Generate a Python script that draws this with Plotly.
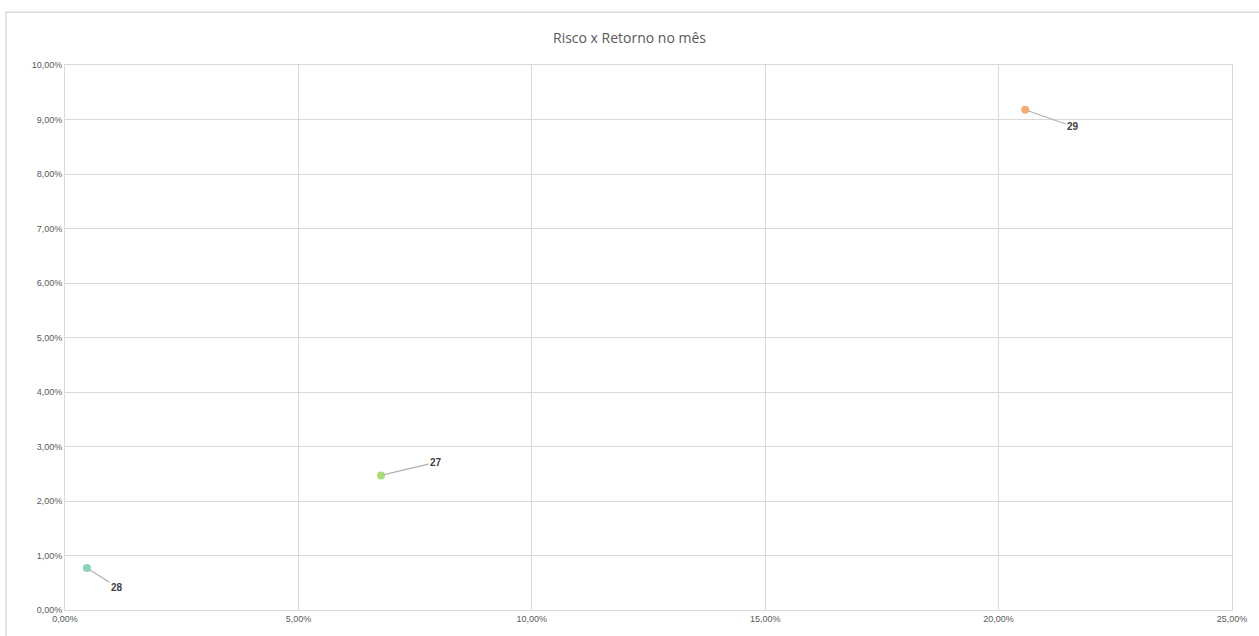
import plotly.graph_objects as go

labels = ["27", "28", "29"]
risco = [0.0677, 0.0047, 0.2057]
retorno = [0.0247, 0.0077, 0.0918]
colors = ["#acdb7a", "#86d6b6", "#f7ab74"]
label_offsets = [(55, -13), (30, 19), (48, 17)]

x_ticks = [0, 0.05, 0.10, 0.15, 0.20, 0.25]
x_ticktext = ["0,00%", "5,00%", "10,00%", "15,00%", "20,00%", "25,00%"]
y_ticks = [i / 100 for i in range(11)]
y_ticktext = [f"{i},00%" for i in range(11)]

fig = go.Figure()
fig.add_trace(go.Scatter(
    x=risco, y=retorno, mode="markers",
    marker=dict(color=colors, size=8),
    showlegend=False, hoverinfo="x+y",
))

for lab, xv, yv, (ax, ay) in zip(labels, risco, retorno, label_offsets):
    fig.add_annotation(
        x=xv, y=yv, text=f"<b>{lab}</b>", showarrow=True,
        arrowhead=0, arrowwidth=1.2, arrowcolor="#b0b0b0",
        ax=ax, ay=ay, font=dict(size=10, color="#404040", family="Liberation Sans"),
        standoff=3,
    )

fig.add_shape(type="rect", xref="paper", yref="paper",
              x0=-0.0505, x1=1.06, y0=-0.1, y1=1.097,
              line=dict(color="#d9d9d9", width=1.5), layer="below")

fig.update_layout(
    width=1259, height=636,
    margin=dict(l=65, r=25, t=65, b=25),
    paper_bgcolor="white", plot_bgcolor="white",
    title=dict(text="Risco x Retorno no mês", x=0.5, xanchor="center",
               y=1 - 38 / 636, yanchor="middle",
               font=dict(size=14, color="#595959", family="Open Sans")),
    font=dict(family="Liberation Sans", color="#595959", size=9),
)
fig.update_xaxes(range=[0, 0.25], tickvals=x_ticks, ticktext=x_ticktext,
                 showgrid=True, gridcolor="#d9d9d9", gridwidth=1,
                 showline=True, linecolor="#d9d9d9", linewidth=1, mirror=True,
                 zeroline=False, ticks="", tickfont=dict(size=9, color="#595959"))
fig.update_yaxes(range=[0, 0.10], tickvals=y_ticks, ticktext=y_ticktext,
                 showgrid=True, gridcolor="#d9d9d9", gridwidth=1,
                 showline=True, linecolor="#d9d9d9", linewidth=1, mirror=True,
                 zeroline=False, ticks="", tickfont=dict(size=9, color="#595959"))

fig.write_html("out.html", config={"displayModeBar": False},
               post_script="document.body.style.margin='0';document.body.style.overflow='hidden';")
